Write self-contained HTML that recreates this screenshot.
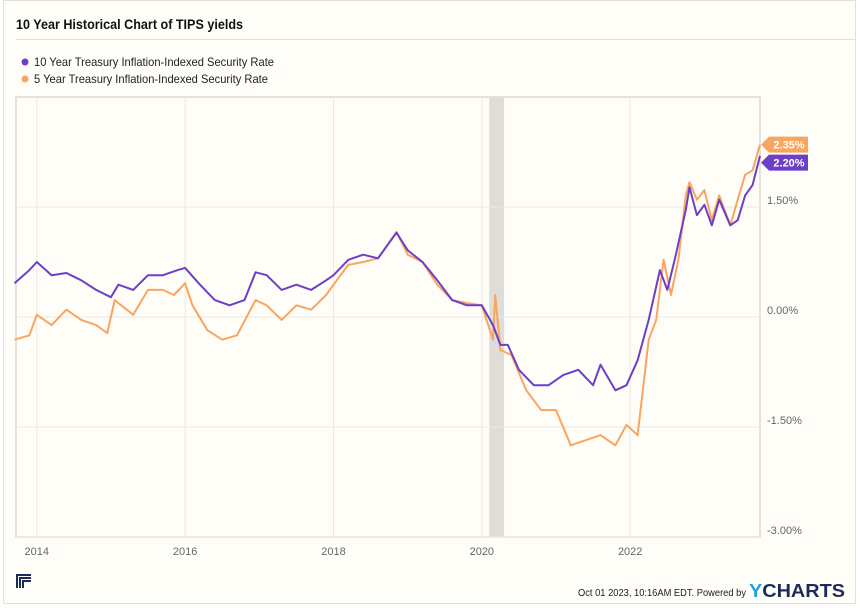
<!DOCTYPE html>
<html><head><meta charset="utf-8">
<style>
html,body{margin:0;padding:0;background:#fff;}
#card{position:absolute;left:3px;top:0;width:853px;height:604px;background:#fffdf7;border:1px solid #e2e0da;box-sizing:border-box;font-family:"Liberation Sans",sans-serif;}
svg{position:absolute;left:0;top:0;}
</style></head>
<body>
<div id="card"></div>
<svg id="chart" width="860" height="608"></svg>
<script>
const dates10 = [2013.7,2013.9,2014.0,2014.2,2014.4,2014.6,2014.8,2015.0,2015.1,2015.3,2015.5,2015.7,2015.9,2016.0,2016.2,2016.4,2016.6,2016.8,2016.95,2017.1,2017.3,2017.5,2017.7,2017.9,2018.0,2018.2,2018.4,2018.6,2018.85,2019.0,2019.2,2019.4,2019.6,2019.8,2020.0,2020.15,2020.25,2020.35,2020.5,2020.7,2020.9,2021.1,2021.3,2021.5,2021.6,2021.8,2021.95,2022.1,2022.25,2022.4,2022.5,2022.6,2022.75,2022.8,2022.9,2023.0,2023.1,2023.2,2023.35,2023.45,2023.55,2023.65,2023.75];
const values10 = [0.46,0.64,0.75,0.57,0.6,0.5,0.37,0.27,0.44,0.37,0.57,0.57,0.64,0.67,0.44,0.23,0.16,0.23,0.61,0.57,0.37,0.44,0.37,0.5,0.57,0.78,0.85,0.8,1.15,0.91,0.75,0.5,0.23,0.16,0.16,-0.11,-0.38,-0.38,-0.72,-0.93,-0.93,-0.79,-0.72,-0.93,-0.65,-1.0,-0.93,-0.59,-0.04,0.64,0.37,0.78,1.46,1.77,1.39,1.53,1.25,1.6,1.25,1.32,1.66,1.8,2.2];
const dates5 = [2013.7,2013.9,2014.0,2014.2,2014.4,2014.6,2014.8,2014.95,2015.05,2015.3,2015.5,2015.7,2015.85,2016.0,2016.1,2016.3,2016.5,2016.7,2016.95,2017.1,2017.3,2017.5,2017.7,2017.9,2018.0,2018.2,2018.4,2018.6,2018.85,2019.0,2019.2,2019.4,2019.6,2019.8,2020.0,2020.15,2020.18,2020.25,2020.4,2020.6,2020.8,2021.0,2021.2,2021.4,2021.6,2021.8,2021.95,2022.1,2022.25,2022.35,2022.45,2022.55,2022.65,2022.75,2022.8,2022.9,2023.0,2023.1,2023.2,2023.35,2023.45,2023.55,2023.65,2023.75];
const values5 = [-0.31,-0.25,0.03,-0.11,0.1,-0.04,-0.11,-0.22,0.23,0.03,0.37,0.37,0.3,0.46,0.16,-0.18,-0.31,-0.25,0.23,0.16,-0.04,0.16,0.1,0.3,0.44,0.71,0.75,0.8,1.16,0.85,0.75,0.44,0.23,0.19,0.16,-0.31,0.3,-0.45,-0.52,-1.0,-1.27,-1.27,-1.75,-1.68,-1.61,-1.75,-1.47,-1.61,-0.31,-0.04,0.78,0.3,0.78,1.66,1.84,1.6,1.73,1.32,1.66,1.25,1.6,1.94,2.0,2.35];
const yTicks = [1.5,0,-1.5,-3];
const yTickLabels = ["1.50%","0.00%","-1.50%","-3.00%"];
const xTicks = [2014,2016,2018,2020,2022];
const recession = [2020.1,2020.3];

const NS="http://www.w3.org/2000/svg";
const svg=document.getElementById('chart');
const L=16,R=760,T=97,B=537;
const x0=2013.72,x1=2023.75,yMin=-3,yMax=3;
const xs=v=>L+(v-x0)/(x1-x0)*(R-L);
const ys=v=>B-(v-yMin)/(yMax-yMin)*(B-T);
function el(tag,attrs,txt){const e=document.createElementNS(NS,tag);for(const k in attrs)e.setAttribute(k,attrs[k]);if(txt!==undefined)e.textContent=txt;svg.appendChild(e);return e;}
const F='"Liberation Sans",sans-serif';

let t=el('text',{x:16,y:29,'font-size':14,'font-weight':'bold',fill:'#111','font-family':F,textLength:227,lengthAdjust:'spacingAndGlyphs'},'10 Year Historical Chart of TIPS yields');


let hr=el('line',{x1:16,y1:39.5,x2:855,y2:39.5,stroke:'#e2e0da'});



const legend=[["10 Year Treasury Inflation-Indexed Security Rate","#6d3fc7",66,240],["5 Year Treasury Inflation-Indexed Security Rate","#f9a560",83,234]];
legend.forEach((l,i)=>{
  let c=el('circle',{cx:25,cy:l[2]-4,r:3.5,fill:l[1]});
  
  
  let tx=el('text',{x:34,y:l[2],'font-size':12,fill:'#222','font-family':F,textLength:l[3],lengthAdjust:'spacingAndGlyphs'},l[0]);
  
  
});

let frame=el('rect',{x:L,y:T,width:R-L,height:B-T,fill:'none',stroke:'#dcdad4','stroke-width':1.5});



let rec=el('rect',{x:xs(recession[0]),y:T,width:xs(recession[1])-xs(recession[0]),height:B-T,fill:'#dfddd8'});



yTicks.forEach((v,i)=>{
  let g=el('line',{x1:L,x2:R,y1:ys(v),y2:ys(v),stroke:'#ebe9e3'});
  
  
  let tx=el('text',{x:767,y:ys(v)-3,'font-size':11,fill:'#666','font-family':F},yTickLabels[i]);
  
  
});
xTicks.forEach(v=>{
  let g=el('line',{x1:xs(v),x2:xs(v),y1:T,y2:B,stroke:'#ebe9e3'});
  
  
  let tx=el('text',{x:xs(v),y:555,'font-size':11,fill:'#666','text-anchor':'middle','font-family':F},String(v));
  
  
});

function line(d,v,color,name){
  const p=d.map((x,i)=>(i?'L':'M')+xs(x).toFixed(1)+' '+ys(v[i]).toFixed(1)).join(' ');
  let e=el('path',{d:p,fill:'none',stroke:color,'stroke-width':2,'stroke-linejoin':'round'});
  
  
}
line(dates5,values5,'#f9a560','series-5y-line');
line(dates10,values10,'#6d3fc7','series-10y-line');

function tag(v,color,name,y){
  let p=el('path',{d:`M${R+1} ${y} L${R+9} ${y-8} H${R+48} V${y+8} H${R+9} Z`,fill:color});
  
  
  let tx=el('text',{x:R+29,y:y+4,'font-size':11,'font-weight':'bold',fill:'#fff','text-anchor':'middle','font-family':F},v.toFixed(2)+'%');
  
  
}
const v5=values5[values5.length-1], v10=values10[values10.length-1];
const ya=ys(v5), yb=Math.max(ys(v10), ya+18);
tag(v5,'#f9a560','last-value-5y',ya);
tag(v10,'#6d3fc7','last-value-10y',yb);

let logo=el('g',{});


[0,3,6].forEach(o=>{let r=document.createElementNS(NS,'path');r.setAttribute('d',`M${17+o} 588 V${575+o} H${31}`);r.setAttribute('stroke','#1d2a5a');r.setAttribute('stroke-width','2');r.setAttribute('fill','none');logo.appendChild(r);});

let ft=el('text',{x:578,y:596,'font-size':10,fill:'#222','font-family':F,textLength:168,lengthAdjust:'spacingAndGlyphs'},'Oct 01 2023, 10:16AM EDT.  Powered by');


let yc=el('text',{x:749,y:597,'font-size':18,'font-weight':'bold',fill:'#1d2a5a','font-family':F,textLength:96,lengthAdjust:'spacingAndGlyphs'},'');


let s1=document.createElementNS(NS,'tspan');s1.setAttribute('fill','#1aa3e0');s1.textContent='Y';yc.appendChild(s1);
let s2=document.createElementNS(NS,'tspan');s2.textContent='CHARTS';yc.appendChild(s2);
</script>
</body></html>
